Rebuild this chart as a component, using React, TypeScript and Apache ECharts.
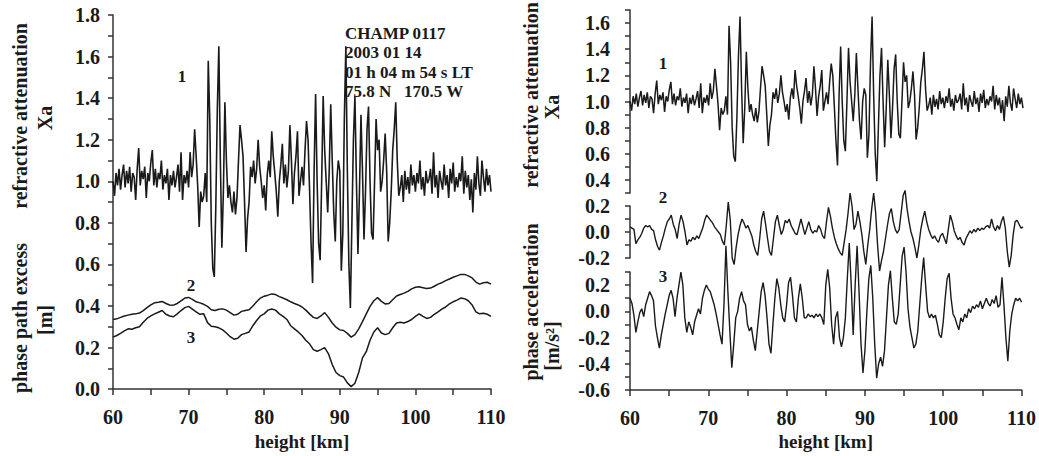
import React, { useEffect, useRef } from "react";
import * as echarts from "echarts";

// ---- data ----
const X_START = 60;
const XA_STEP = 0.2; // km
const XA = [
  1.00, 0.93, 1.04, 0.98, 1.06, 0.96, 1.03, 1.08, 0.97, 1.05,
  0.99, 1.07, 0.95, 1.04, 1.02, 0.91, 1.06, 1.16, 0.98, 1.05,
  1.01, 1.07, 0.92, 1.04, 1.00, 1.09, 1.15, 0.98, 1.06, 0.97,
  1.04, 1.01, 1.10, 0.96, 1.03, 0.99, 1.06, 0.91, 1.03, 0.98,
  1.05, 0.97, 1.02, 1.08, 0.95, 1.14, 0.91, 1.03, 0.99, 1.05,
  0.97, 1.14, 1.02, 1.08, 1.25, 1.12, 0.98, 0.78, 0.95, 0.90,
  0.93, 1.04, 0.90, 1.58, 1.30, 0.80, 0.58, 0.54, 0.88, 1.35,
  1.65, 1.10, 0.68, 0.95, 1.38, 1.10, 0.92, 0.98, 0.90, 0.85,
  0.95, 0.84, 0.92, 1.10, 1.27, 1.20, 1.12, 0.90, 0.66, 0.82,
  0.90, 1.07, 1.02, 1.10, 0.99, 1.06, 1.20, 1.07, 1.00, 0.92,
  0.98, 0.86, 1.03, 1.10, 1.02, 1.24, 1.12, 1.04, 0.95, 0.83,
  1.00, 1.08, 1.18, 0.99, 1.08, 0.97, 1.05, 1.27, 1.10, 0.89,
  1.04, 1.12, 1.24, 0.93, 1.00, 1.07, 0.98, 1.15, 1.29, 1.20,
  0.96, 0.70, 0.51, 1.05, 1.42, 1.00, 0.70, 0.62, 1.00, 1.41,
  1.15, 1.00, 0.85, 1.05, 1.37, 1.10, 0.85, 0.71, 1.00, 1.10,
  1.05, 0.57, 0.75, 1.30, 1.65, 1.05, 0.60, 0.39, 0.80, 1.20,
  1.41, 1.00, 0.65, 0.95, 1.32, 1.05, 0.72, 0.95, 1.25, 1.36,
  1.00, 0.75, 0.72, 1.00, 1.30, 1.15, 1.20, 0.95, 1.00, 1.10,
  1.23, 1.05, 0.71, 0.80, 0.95, 1.15, 1.25, 1.38, 1.10, 0.93,
  0.97, 1.03, 0.90, 1.05, 0.96, 1.02, 0.94, 1.08, 0.98, 1.03,
  0.95, 1.04, 0.99, 1.10, 0.96, 1.02, 0.93, 1.05, 0.99, 1.01,
  1.06, 0.94, 1.14, 0.97, 1.03, 0.92, 1.05, 1.00, 0.96, 1.08,
  0.98, 1.03, 0.92, 1.06, 0.99, 1.09, 0.95, 1.02, 0.97, 1.04,
  1.00, 1.12, 0.94, 1.05, 0.97, 1.03, 0.91, 1.01, 0.85, 1.04,
  0.96, 1.12, 0.99, 0.93, 1.10, 1.02, 0.95, 1.06, 0.98, 1.03,
  0.95,
];

const PE_STEP = 0.5; // km
const PATH_EXCESS_2 = [
  0.335, 0.338, 0.345, 0.352, 0.356, 0.360, 0.362, 0.366, 0.378, 0.392,
  0.405, 0.415, 0.418, 0.422, 0.412, 0.405, 0.404, 0.412, 0.425, 0.438,
  0.441, 0.432, 0.420, 0.415, 0.408, 0.398, 0.382, 0.378, 0.384, 0.386,
  0.380, 0.368, 0.356, 0.360, 0.374, 0.378, 0.382, 0.400, 0.420, 0.438,
  0.447, 0.452, 0.458, 0.455, 0.445, 0.438, 0.430, 0.420, 0.412, 0.405,
  0.395, 0.380, 0.362, 0.345, 0.340, 0.352, 0.368, 0.345, 0.318, 0.298,
  0.285, 0.282, 0.268, 0.250, 0.262, 0.290, 0.325, 0.362, 0.398, 0.425,
  0.440, 0.422, 0.410, 0.412, 0.430, 0.448, 0.455, 0.462, 0.470, 0.482,
  0.490, 0.492, 0.488, 0.484, 0.486, 0.495, 0.505, 0.512, 0.522, 0.530,
  0.538, 0.545, 0.552, 0.552, 0.545, 0.535, 0.515, 0.505, 0.512, 0.514,
  0.505,
];
const PATH_EXCESS_3 = [
  0.250, 0.258, 0.268, 0.280, 0.290, 0.288, 0.295, 0.300, 0.322, 0.340,
  0.352, 0.362, 0.370, 0.378, 0.360, 0.352, 0.348, 0.362, 0.378, 0.392,
  0.398, 0.385, 0.372, 0.360, 0.362, 0.320, 0.302, 0.300, 0.295, 0.285,
  0.270, 0.252, 0.240, 0.245, 0.262, 0.268, 0.275, 0.305, 0.330, 0.352,
  0.362, 0.380, 0.385, 0.380, 0.362, 0.350, 0.335, 0.305, 0.290, 0.275,
  0.258, 0.235, 0.218, 0.190, 0.182, 0.190, 0.200, 0.170, 0.118, 0.080,
  0.065, 0.058, 0.030, 0.012, 0.028, 0.080, 0.150, 0.180, 0.235, 0.275,
  0.295, 0.270, 0.262, 0.268, 0.295, 0.318, 0.322, 0.318, 0.325, 0.335,
  0.350, 0.362, 0.350, 0.340, 0.345, 0.360, 0.372, 0.385, 0.395, 0.410,
  0.420, 0.428, 0.438, 0.435, 0.425, 0.405, 0.372, 0.362, 0.365, 0.360,
  0.350,
];

const ACC_STEP = 0.25; // km
const ACCEL_2 = [
  0.04, 0.03, 0.02, -0.09, -0.06, -0.04, -0.01, 0.03,
  0.05, 0.04, 0.05, 0.02, 0.01, -0.06, -0.11, -0.14,
  -0.08, -0.03, 0.03, 0.08, 0.10, 0.13, 0.06, 0.02,
  -0.05, 0.06, 0.13, 0.08, 0.00, -0.10, -0.06, -0.07,
  -0.04, -0.06, -0.03, -0.05, -0.01, 0.03, 0.09, 0.13,
  0.11, 0.09, 0.07, 0.04, 0.02, 0.00, -0.02, -0.07,
  -0.10, 0.05, 0.23, 0.10, -0.20, -0.25, -0.12, -0.02,
  0.05, 0.10, 0.07, 0.03, 0.05, 0.01, -0.03, -0.10,
  -0.15, -0.18, -0.05, 0.10, 0.16, 0.06, -0.05, -0.15,
  -0.18, -0.05, 0.08, 0.13, 0.05, -0.02, 0.02, 0.09,
  0.07, 0.10, 0.05, 0.02, -0.01, -0.02, 0.04, 0.10,
  0.04, -0.02, 0.03, 0.08, 0.02, -0.01, 0.01, 0.00,
  0.05, 0.02, -0.03, -0.05, 0.08, 0.19, 0.12, 0.03,
  -0.04, -0.09, -0.13, -0.16, -0.18, -0.08, 0.02, 0.15,
  0.30, 0.20, 0.02, 0.06, 0.16, 0.08, -0.02, -0.15,
  -0.25, -0.10, 0.02, 0.18, 0.30, 0.15, -0.10, -0.30,
  -0.22, -0.15, -0.05, 0.05, 0.14, 0.18, 0.08, 0.02,
  -0.01, 0.02, 0.15, 0.28, 0.32, 0.18, 0.08, 0.00,
  -0.05, -0.12, -0.20, -0.10, 0.02, 0.10, 0.16, 0.08,
  0.02, -0.02, -0.05, -0.03, -0.06, -0.08, -0.03, -0.01,
  -0.05, -0.09, 0.02, 0.13, 0.08, 0.01, -0.03, -0.06,
  -0.04, -0.08, -0.10, -0.05, -0.02, 0.01, -0.01, 0.02,
  0.00, 0.03, 0.01, 0.03, 0.02, 0.04, 0.05, 0.03,
  0.10, 0.04, 0.01, 0.05, 0.02, 0.08, 0.12, 0.03,
  -0.15, -0.27, -0.18, -0.02, 0.08, 0.09, 0.06, 0.03,
  0.04,
];
const ACCEL_3 = [
  0.10, 0.06, -0.03, -0.16, -0.08, -0.01, 0.02, -0.04,
  0.05, 0.10, 0.15, 0.12, 0.08, -0.11, -0.20, -0.28,
  -0.18, -0.10, -0.02, 0.05, 0.12, 0.16, 0.10, -0.04,
  0.10, 0.20, 0.30, 0.20, -0.05, -0.16, -0.08, -0.12,
  -0.18, -0.08, -0.03, 0.02, -0.02, 0.10, 0.16, 0.20,
  0.17, 0.15, 0.10, 0.05, -0.02, -0.10, -0.18, -0.25,
  0.05, 0.50, 0.15, -0.15, -0.43, -0.25, -0.05, 0.00,
  0.10, 0.15, 0.08, 0.05, -0.10, -0.15, -0.12, -0.22,
  -0.30, -0.15, 0.00, 0.15, 0.22, 0.12, -0.05, -0.25,
  -0.32, -0.10, 0.10, 0.25, 0.18, 0.05, -0.05, -0.08,
  0.05, 0.22, 0.26, 0.12, -0.05, -0.08, 0.10, 0.21,
  0.10, -0.05, -0.05, -0.02, -0.04, -0.03, -0.05, -0.02,
  -0.04, -0.02, -0.05, -0.10, 0.20, 0.32, 0.18, -0.10,
  -0.25, -0.05, 0.00, -0.20, -0.27, -0.20, -0.05, 0.25,
  0.52, 0.20, -0.18, 0.20, 0.50, 0.15, -0.25, -0.47,
  -0.30, 0.00, 0.25, 0.35, 0.10, -0.25, -0.51, -0.40,
  -0.35, -0.42, -0.30, -0.05, 0.20, 0.31, 0.10, -0.08,
  -0.10, -0.02, 0.20, 0.42, 0.49, 0.30, 0.02, -0.12,
  -0.20, -0.28, -0.25, -0.15, 0.05, 0.25, 0.41, 0.20,
  0.00, -0.05, -0.02, -0.05, -0.03, -0.10, -0.18, -0.20,
  -0.08, 0.10, 0.25, 0.29, 0.10, -0.02, -0.05, -0.10,
  -0.14, -0.05, -0.08, -0.02, -0.05, 0.02, -0.01, 0.04,
  0.02, 0.05, 0.03, 0.08, 0.02, 0.06, 0.10, 0.06,
  0.04, 0.09, 0.06, 0.12, 0.03, 0.05, 0.26, 0.05,
  -0.20, -0.38, -0.15, -0.02, 0.05, 0.10, 0.08, 0.10,
  0.07,
];

const INFO_LINES = ["CHAMP 0117", "2003 01 14", "01 h 04 m 54 s LT", "75.8 N   170.5 W"];

// ---- helpers ----
const toPairs = (vals: number[], start: number, step: number) =>
  vals.map((v, i) => [+(start + i * step).toFixed(3), v]);

const FONT = '"Liberation Serif", "Times New Roman", serif';
const INK = "#1a1a1a";
const AXIS = "#333";

const tenthLabel = (v: number) => {
  const t = Math.round(v * 10);
  return t % 2 === 0 ? (t / 10).toFixed(1) : "";
};

const yAxis = (gridIndex: number, min: number, max: number, margin: number) => ({
  type: "value",
  gridIndex,
  min,
  max,
  interval: 0.1,
  axisLine: { show: true, onZero: false, lineStyle: { color: AXIS, width: 1.5 } },
  axisTick: { show: true, inside: false, length: 5, lineStyle: { color: AXIS, width: 1.5 } },
  axisLabel: {
    show: true,
    margin,
    fontFamily: FONT,
    fontWeight: "bold",
    fontSize: 20,
    color: INK,
    formatter: tenthLabel,
  },
  splitLine: { show: false },
});

const xAxis = (gridIndex: number, show: boolean) => ({
  type: "value",
  gridIndex,
  min: 60,
  max: 110,
  interval: 5,
  show,
  axisLine: { show, onZero: false, lineStyle: { color: AXIS, width: 1.5 } },
  axisTick: { show, inside: false, length: 6, lineStyle: { color: AXIS, width: 1.5 } },
  axisLabel: {
    show,
    margin: 18,
    fontFamily: FONT,
    fontWeight: "bold",
    fontSize: 20,
    color: INK,
    formatter: (v: number) => (Math.round(v) % 10 === 0 ? String(Math.round(v)) : ""),
  },
  splitLine: { show: false },
  name: show ? "height [km]" : "",
  nameLocation: "middle",
  nameGap: 42,
  nameTextStyle: { fontFamily: FONT, fontWeight: "bold", fontSize: 19, color: INK },
});

const line = (xi: number, yi: number, data: number[][], width: number) => ({
  type: "line",
  xAxisIndex: xi,
  yAxisIndex: yi,
  data,
  symbol: "none",
  showSymbol: false,
  clip: false,
  silent: true,
  lineStyle: { color: INK, width },
});

const txt = (text: string, x: number, y: number, size: number, rotate = false, align = "center") => ({
  type: "text",
  x,
  y,
  rotation: rotate ? Math.PI / 2 : 0,
  silent: true,
  style: {
    text,
    font: `bold ${size}px ${FONT}`,
    fill: INK,
    align,
    textAlign: align,
    verticalAlign: "middle",
    textVerticalAlign: "middle",
  },
});

export default function App() {
  const ref = useRef<HTMLDivElement>(null);

  useEffect(() => {
    if (!ref.current) return;
    const chart = echarts.init(ref.current, undefined, { renderer: "svg" });

    const xa = toPairs(XA, X_START, XA_STEP);
    const pe2 = toPairs(PATH_EXCESS_2, X_START, PE_STEP);
    const pe3 = toPairs(PATH_EXCESS_3, X_START, PE_STEP);
    const a2 = toPairs(ACCEL_2, X_START, ACC_STEP);
    const a3 = toPairs(ACCEL_3, X_START, ACC_STEP);

    const graphic: any[] = [
      txt("refractive attenuation", 20, 116, 20, true),
      txt("Xa", 45, 118, 20, true),
      txt("phase path excess", 20, 318, 20, true),
      txt("[m]", 45, 320, 20, true),
      txt("refractive attenuation", 531, 95, 20, true),
      txt("Xa", 552, 107, 20, true),
      txt("phase acceleration", 531, 302, 20, true),
      txt("[m/s\u00B2]", 552, 346, 20, true),
      txt("1", 182, 76, 17),
      txt("2", 191, 285, 17),
      txt("3", 191, 337, 17),
      txt("1", 663, 63, 17),
      txt("2", 663, 197, 17),
      txt("3", 663, 276, 17),
    ];
    INFO_LINES.forEach((t, i) => graphic.push(txt(t, 345, 33 + i * 19.5, 17, false, "left")));

    chart.setOption({
      animation: false,
      backgroundColor: "#ffffff",
      grid: [
        { left: 113, top: 15, width: 378, height: 376 },
        { left: 630, top: 10, width: 393, height: 183 },
        { left: 630, top: 206, width: 393, height: 52 },
        { left: 630, top: 272, width: 393, height: 118 },
      ],
      xAxis: [xAxis(0, true), xAxis(1, false), xAxis(2, false), xAxis(3, true)],
      yAxis: [
        yAxis(0, 0, 1.8, 13),
        yAxis(1, 0.3, 1.7, 20),
        yAxis(2, -0.2, 0.2, 20),
        yAxis(3, -0.6, 0.3, 20),
      ],
      series: [
        line(0, 0, xa, 1.6),
        line(0, 0, pe2, 1.5),
        line(0, 0, pe3, 1.5),
        line(1, 1, xa, 1.5),
        line(2, 2, a2, 1.4),
        line(3, 3, a3, 1.4),
      ],
      graphic,
    });

    return () => chart.dispose();
  }, []);

  return (
    <div
      ref={ref}
      style={{ position: "fixed", left: 0, top: 0, width: 1039, height: 456, background: "#fff" }}
    />
  );
}
